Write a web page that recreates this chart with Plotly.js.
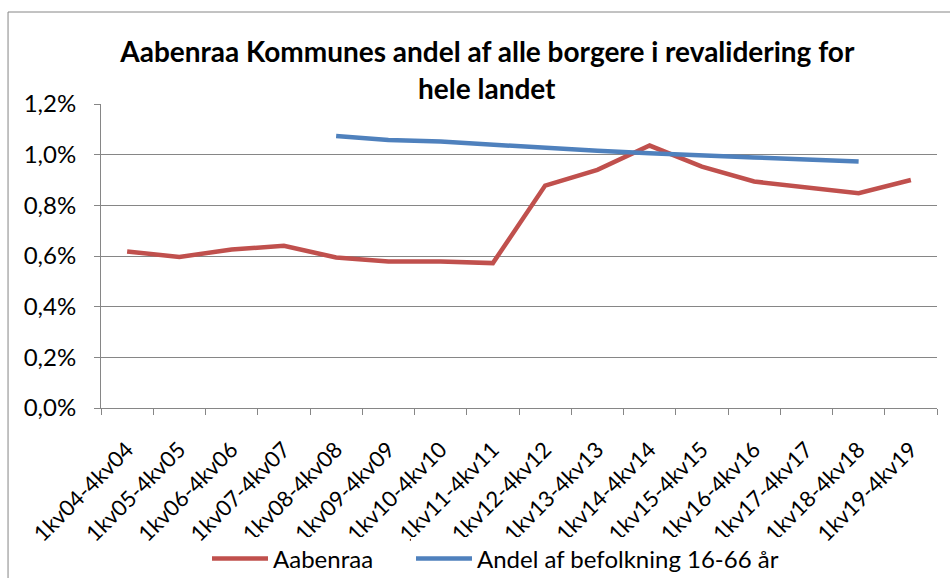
<!DOCTYPE html>
<html>
<head>
<meta charset="utf-8">
<script src="https://cdn.plot.ly/plotly-3.0.1.min.js"></script>
<style>html,body{margin:0;padding:0;background:#fff;}#chart{width:950px;height:578px;}</style>
</head>
<body>
<div id="chart"></div>
<script>
var categories = ["1kv04-4kv04","1kv05-4kv05","1kv06-4kv06","1kv07-4kv07","1kv08-4kv08","1kv09-4kv09","1kv10-4kv10","1kv11-4kv11","1kv12-4kv12","1kv13-4kv13","1kv14-4kv14","1kv15-4kv15","1kv16-4kv16","1kv17-4kv17","1kv18-4kv18","1kv19-4kv19"];
var aabenraa = [0.618,0.596,0.626,0.640,0.594,0.578,0.578,0.572,0.878,0.940,1.036,0.953,0.894,0.872,0.848,0.900];
var befolkning = [null,null,null,null,1.074,1.058,1.052,1.039,1.030,1.015,1.006,0.996,0.989,0.981,0.973,null];
var yTicks = [0,0.2,0.4,0.6,0.8,1.0,1.2];
var yTickText = ["0,0%","0,2%","0,4%","0,6%","0,8%","1,0%","1,2%"];

var font = "Lato, Open Sans, sans-serif";
var traces = [
  {x: categories, y: aabenraa, type: "scatter", mode: "lines", name: "Aabenraa",
   line: {color: "#C0504D", width: 4.5}, legend: "legend"},
  {x: categories, y: befolkning, type: "scatter", mode: "lines", name: "Andel af befolkning 16-66 år",
   line: {color: "#4F81BD", width: 4.5}, legend: "legend2"}
];
var legFont = {family: font, size: 24, color: "#000"};
var legY = (578 - 559) / 578;
var layout = {
  width: 950, height: 578,
  margin: {l: 101, r: 13, t: 104, b: 170, autoexpand: false},
  paper_bgcolor: "#fff", plot_bgcolor: "#fff",
  font: {family: font, color: "#000"},
  title: {text: "<b>Aabenraa Kommunes andel af alle borgere i revalidering for</b>",
          font: {family: font, size: 28, color: "#000"},
          xref: "container", x: 0.513, xanchor: "center",
          yref: "container", y: 1 - 52/578, yanchor: "middle"},
  annotations: [{text: "<b>hele landet</b>", xref: "paper", yref: "paper",
                 x: (487 - 101) / 836, y: (408 - 88) / 304, xanchor: "center", yanchor: "middle",
                 showarrow: false, font: {family: font, size: 28, color: "#000"}}],
  xaxis: {type: "category", range: [-0.5, 15.5], tickson: "boundaries", ticks: "outside", ticklen: 6, tickcolor: "#868686",
          showline: true, linecolor: "#868686", linewidth: 1, showgrid: false, automargin: false,
          tickangle: -45, tickfont: {family: font, size: 22, color: "#000"}, ticklabelstandoff: 19},
  yaxis: {range: [0, 1.2], tickvals: yTicks, ticktext: yTickText, automargin: false,
          ticks: "outside", ticklen: 6, tickcolor: "#868686",
          showline: true, linecolor: "#868686", linewidth: 1,
          showgrid: true, gridcolor: "#868686", gridwidth: 1, zeroline: false,
          tickfont: {family: font, size: 24, color: "#000"}, ticklabelstandoff: 13},
  showlegend: true,
  legend: {orientation: "h", x: (213 - 6) / 950, xref: "container", xanchor: "left", yref: "container", y: legY, yanchor: "middle",
           font: legFont, itemwidth: 56},
  legend2: {orientation: "h", x: (417 - 6) / 950, xref: "container", xanchor: "left", yref: "container", y: legY, yanchor: "middle",
           font: legFont, itemwidth: 56},
  shapes: [{type: "rect", xref: "paper", yref: "paper", x0: -0.1112, x1: 1.3, y0: -0.9, y1: 1.3026,
            line: {color: "#868686", width: 1}, fillcolor: "rgba(0,0,0,0)", layer: "below"}]
};
Plotly.newPlot("chart", traces, layout, {displayModeBar: false, staticPlot: true});
</script>
</body>
</html>
